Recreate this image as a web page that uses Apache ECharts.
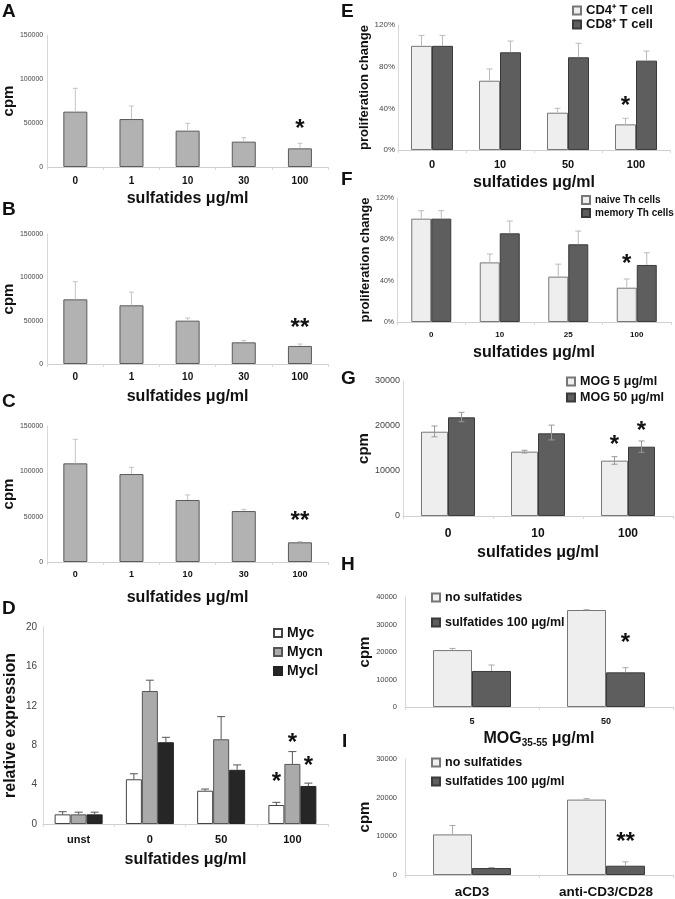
<!DOCTYPE html>
<html><head><meta charset="utf-8">
<script src="https://cdn.jsdelivr.net/npm/echarts@6/dist/echarts.min.js"></script>
<style>html,body{margin:0;padding:0;background:#fff}#c{width:675px;height:899px}</style>
</head><body><div id="c"></div>
<script>
// ---------- data ----------
const catsABC = ['0', '1', '10', '30', '100'];
const valsA = [62900, 54500, 41300, 28800, 21200];
const errA  = [89400, 69300, 49600, 33300, 26900];
const valsB = [74600, 67700, 50000, 25000, 20800];
const errB  = [95000, 83000, 53000, 27000, 23000];
const valsC = [108800, 97000, 68400, 56200, 21700];
const errC  = [135300, 104400, 73900, 58100, 22600];

const catsD = ['unst', '0', '50', '100'];
const mycD     = [0.98, 4.54, 3.38, 1.93];
const mycErrD  = [1.25, 5.1, 3.55, 2.2];
const mycnD    = [0.98, 13.5, 8.6, 6.1];
const mycnErrD = [1.2, 14.6, 10.9, 7.35];
const myclD    = [0.98, 8.3, 5.5, 3.86];
const myclErrD = [1.2, 8.8, 6.0, 4.15];

const catsE = ['0', '10', '50', '100'];
const cd4E    = [100, 66.5, 35.8, 24.6];
const cd4ErrE = [110, 77.8, 40, 30.4];
const cd8E    = [100, 93.8, 89, 85.8];
const cd8ErrE = [110, 104.6, 102.4, 95];

const catsF = ['0', '10', '25', '100'];
const naiveF    = [100, 57.7, 43.9, 33.2];
const naiveErrF = [107.7, 65.8, 56, 41.6];
const memF      = [100, 85.8, 75.2, 55.2];
const memErrF   = [107.7, 97.7, 88, 67];

const catsG = ['0', '10', '100'];
const mog5G      = [18730, 14300, 12300];
const mog5HiG    = [20000, 14600, 13180];
const mog5LoG    = [17600, 14000, 11500];
const mog50G     = [21930, 18370, 15400];
const mog50HiG   = [23040, 20200, 16670];
const mog50LoG   = [20960, 16900, 14150];

const catsH = ['5', '50'];
const noSulfH    = [20700, 35270];
const noSulfErrH = [21300, 35400];
const sulfH      = [13100, 12600];
const sulfErrH   = [15270, 14300];

const catsI = ['aCD3', 'anti-CD3/CD28'];
const noSulfI    = [10500, 19500];
const noSulfErrI = [12800, 19750];
const sulfI      = [1800, 2400];
const sulfErrI   = [1950, 3400];

// stars: [category index, y value, text, series index]
const starsA = [[4, 49500, '*', 0]];
const starsB = [[4, 47500, '**', 0]];
const starsC = [[4, 51000, '**', 0]];
const starsD = [[3, 4.8, '*', 0], [3, 8.8, '*', 1], [3, 6.5, '*', 2]];
const starsE = [[3, 48, '*', 0]];
const starsF = [[3, 62, '*', 0]];
const starsG = [[2, 17100, '*', 0], [2, 20200, '*', 1]];
const starsH = [[1, 25400, '*', 1]];
const starsI = [[1, 10000, '**', 1]];

// ---------- chart ----------
const FONT = 'Liberation Sans, Arial, Helvetica, sans-serif';
const chart = echarts.init(document.getElementById('c'));
const grids = [], xAxes = [], yAxes = [], series = [], legends = [], graphics = [];

function errRender(off, cap, color, both) {
  return function (params, api) {
    const x = api.value(0);
    const u = api.coord([x, api.value(2)]);
    const l = api.coord([x, api.value(3)]);
    const cx = u[0] + off;
    const ch = [
      { type: 'line', shape: { x1: cx, y1: l[1], x2: cx, y2: u[1] }, style: { stroke: color, lineWidth: 1 } },
      { type: 'line', shape: { x1: cx - cap, y1: u[1], x2: cx + cap, y2: u[1] }, style: { stroke: color, lineWidth: 1 } }
    ];
    if (both) ch.push({ type: 'line', shape: { x1: cx - cap, y1: l[1], x2: cx + cap, y2: l[1] }, style: { stroke: color, lineWidth: 1 } });
    return { type: 'group', children: ch };
  };
}

function addPanel(c) {
  const k = grids.length;
  grids.push({ left: c.grid[0], top: c.grid[1], width: c.grid[2], height: c.grid[3], containLabel: false });
  xAxes.push({
    type: 'category', gridIndex: k, data: c.cats,
    axisLine: { show: true, lineStyle: { color: '#cfcfcf', width: 1 } },
    axisTick: { show: true, length: 3, lineStyle: { color: '#d8d8d8' } },
    axisLabel: { interval: 0, fontSize: c.catFont, fontWeight: 'bold', color: '#111', fontFamily: FONT, margin: c.catMargin },
    name: c.xName, nameLocation: 'middle', nameGap: c.xNameGap,
    nameTextStyle: Object.assign({ fontSize: 16, fontWeight: 'bold', color: '#111', fontFamily: FONT }, c.xNameStyle || {})
  });
  yAxes.push({
    type: 'value', gridIndex: k, min: 0, max: c.yMax, interval: c.yInt,
    axisLine: { show: true, lineStyle: { color: '#d8d8d8', width: 1 } },
    axisTick: { show: false }, splitLine: { show: false },
    axisLabel: { fontSize: c.tickFont, color: '#444', fontFamily: FONT, margin: c.tickMargin,
      formatter: c.pct ? (v => v + '%') : (v => String(v)) },
    name: c.yName, nameLocation: 'middle', nameGap: c.yNameGap,
    nameTextStyle: { fontSize: c.yNameFont, fontWeight: 'bold', color: '#111', fontFamily: FONT }
  });
  const n = c.series.length;
  c.series.forEach((s, i) => {
    series.push({
      type: 'bar', name: s.name, xAxisIndex: k, yAxisIndex: k, data: s.data,
      barWidth: c.barWidth, barGap: '0%',
      itemStyle: { color: s.color, borderColor: s.border, borderWidth: 1 },
      emphasis: { disabled: true }, animation: false
    });
  });
  c.series.forEach((s, i) => {
    const off = (i - (n - 1) / 2) * c.barWidth;
    const low = s.low || s.data;
    series.push({
      type: 'custom', xAxisIndex: k, yAxisIndex: k, z: 5, animation: false,
      renderItem: errRender(off, c.cap, c.errColor, !!s.low),
      data: s.data.map((v, j) => [j, v, s.err[j], low[j]]),
      encode: { x: 0, y: [1, 2, 3] }, silent: true
    });
  });
  series.push({
    type: 'custom', xAxisIndex: k, yAxisIndex: k, z: 6, animation: false, silent: true,
    renderItem: function (params, api) {
      const p = api.coord([api.value(0), api.value(1)]);
      const si = api.value(3);
      const off = (si - (n - 1) / 2) * c.barWidth;
      return { type: 'text', x: p[0] + off, y: p[1] + 6,
        style: { text: c.stars[params.dataIndex][2], font: 'bold 24px ' + FONT, fill: '#111', align: 'center', verticalAlign: 'middle' } };
    },
    data: c.stars.map(s => [s[0], s[1], 0, s[3]]),
    encode: { x: 0, y: 1 }
  });
  if (c.legend) {
    legends.push(Object.assign({
      orient: 'vertical', icon: 'rect', itemWidth: 8, itemHeight: 8,
      data: c.series.map(s => s.name), selectedMode: false,
      textStyle: { fontSize: c.legend.font, fontWeight: 'bold', color: '#111', fontFamily: FONT },
      padding: 0
    }, c.legend.pos));
  }
}

const gA = '#b2b2b2', gBorder = '#5a5a5a';
const lightC = '#eeeeee', lightB = '#777777', darkC = '#5e5e5e', darkB = '#3a3a3a';

addPanel({ grid: [43, 35, 285, 132], cats: catsABC, yMax: 150000, yInt: 50000,
  tickFont: 7, tickMargin: 4, catFont: 10, catMargin: 9,
  xName: 'sulfatides μg/ml', xNameGap: 24, yName: 'cpm', yNameFont: 15, yNameGap: 27,
  barWidth: 24, cap: 2.5, errColor: '#c4c4c4',
  series: [{ name: 'A', data: valsA, err: errA, color: gA, border: gBorder }], stars: starsA });
addPanel({ grid: [43, 234, 285, 130], cats: catsABC, yMax: 150000, yInt: 50000,
  tickFont: 7, tickMargin: 4, catFont: 10, catMargin: 8,
  xName: 'sulfatides μg/ml', xNameGap: 25, yName: 'cpm', yNameFont: 15, yNameGap: 27,
  barWidth: 24, cap: 2.5, errColor: '#c4c4c4',
  series: [{ name: 'B', data: valsB, err: errB, color: gA, border: gBorder }], stars: starsB });
addPanel({ grid: [43, 426, 285, 136], cats: catsABC, yMax: 150000, yInt: 50000,
  tickFont: 7, tickMargin: 4, catFont: 9, catMargin: 8,
  xName: 'sulfatides μg/ml', xNameGap: 28, yName: 'cpm', yNameFont: 15, yNameGap: 27,
  barWidth: 24, cap: 2.5, errColor: '#c4c4c4',
  series: [{ name: 'C', data: valsC, err: errC, color: gA, border: gBorder }], stars: starsC });
addPanel({ grid: [43, 627, 285, 197], cats: catsD, yMax: 20, yInt: 4,
  tickFont: 10, tickMargin: 6, catFont: 11, catMargin: 10,
  xName: 'sulfatides μg/ml', xNameGap: 28, yName: 'relative expression', yNameFont: 16, yNameGap: 24,
  barWidth: 16, cap: 4, errColor: '#555555',
  series: [
    { name: 'Myc', data: mycD, err: mycErrD, color: '#ffffff', border: '#444' },
    { name: 'Mycn', data: mycnD, err: mycnErrD, color: '#aaaaaa', border: '#555' },
    { name: 'Mycl', data: myclD, err: myclErrD, color: '#262626', border: '#222' }],
  stars: starsD,
  legend: { font: 14, pos: { left: 273, top: 626, itemGap: 5 } } });
addPanel({ grid: [398, 25, 272, 125], cats: catsE, yMax: 120, yInt: 40, pct: true,
  tickFont: 8, tickMargin: 3, catFont: 11, catMargin: 9,
  xName: 'sulfatides μg/ml', xNameGap: 25, yName: 'proliferation change', yNameFont: 13, yNameGap: 24,
  barWidth: 21, cap: 3, errColor: '#bbbbbb',
  series: [
    { name: 'CD4⁺ T cell', data: cd4E, err: cd4ErrE, color: lightC, border: lightB },
    { name: 'CD8⁺ T cell', data: cd8E, err: cd8ErrE, color: darkC, border: darkB }],
  stars: starsE,
  legend: { font: 13, pos: { left: 572, top: 4, itemGap: 1 } } });
addPanel({ grid: [397, 198, 274, 124], cats: catsF, yMax: 120, yInt: 40, pct: true,
  tickFont: 7, tickMargin: 3, catFont: 8, catMargin: 9,
  xName: 'sulfatides μg/ml', xNameGap: 23, yName: 'proliferation change', yNameFont: 13, yNameGap: 22,
  barWidth: 20, cap: 3, errColor: '#bbbbbb',
  series: [
    { name: 'naive Th cells', data: naiveF, err: naiveErrF, color: lightC, border: lightB },
    { name: 'memory Th cells', data: memF, err: memErrF, color: darkC, border: darkB }],
  stars: starsF,
  legend: { font: 10, pos: { left: 581, top: 195, itemGap: 3 } } });
addPanel({ grid: [403, 381, 270, 135], cats: catsG, yMax: 30000, yInt: 10000,
  tickFont: 9, tickMargin: 3, catFont: 12, catMargin: 12,
  xName: 'sulfatides μg/ml', xNameGap: 29, yName: 'cpm', yNameFont: 15, yNameGap: 30,
  barWidth: 27, cap: 3, errColor: '#999999',
  series: [
    { name: 'MOG 5 μg/ml', data: mog5G, err: mog5HiG, low: mog5LoG, color: lightC, border: lightB },
    { name: 'MOG 50 μg/ml', data: mog50G, err: mog50HiG, low: mog50LoG, color: darkC, border: darkB }],
  stars: starsG,
  legend: { font: 12.5, pos: { left: 566, top: 375, itemGap: 3 } } });
addPanel({ grid: [405, 597, 268, 110], cats: catsH, yMax: 40000, yInt: 10000,
  tickFont: 7.5, tickMargin: 8, catFont: 9, catMargin: 10,
  xName: '{a|MOG}{s|35-55}{a| μg/ml}', xNameGap: 22,
  xNameStyle: { rich: { a: { fontSize: 16, fontWeight: 'bold', color: '#111', fontFamily: FONT },
                        s: { fontSize: 10, fontWeight: 'bold', color: '#111', fontFamily: FONT, padding: [9, 0, 0, 0] } } },
  yName: 'cpm', yNameFont: 15, yNameGap: 32,
  barWidth: 39, cap: 3, errColor: '#aaaaaa',
  series: [
    { name: 'no sulfatides', data: noSulfH, err: noSulfErrH, color: lightC, border: lightB },
    { name: 'sulfatides 100 μg/ml', data: sulfH, err: sulfErrH, color: darkC, border: darkB }],
  stars: starsH,
  legend: { font: 12.5, pos: { left: 431, top: 591, itemGap: 12 } } });
addPanel({ grid: [405, 759, 268, 117], cats: catsI, yMax: 30000, yInt: 10000,
  tickFont: 7.5, tickMargin: 8, catFont: 13.5, catMargin: 10,
  xName: '', xNameGap: 20, yName: 'cpm', yNameFont: 15, yNameGap: 32,
  barWidth: 39, cap: 3, errColor: '#aaaaaa',
  series: [
    { name: 'no sulfatides', data: noSulfI, err: noSulfErrI, color: lightC, border: lightB },
    { name: 'sulfatides 100 μg/ml', data: sulfI, err: sulfErrI, color: darkC, border: darkB }],
  stars: starsI,
  legend: { font: 12.5, pos: { left: 431, top: 756, itemGap: 6 } } });

const panelLabels = [['A', 2, 2], ['B', 2, 200], ['C', 2, 392], ['D', 2, 599], ['E', 341, 2],
  ['F', 341, 170], ['G', 341, 369], ['H', 341, 555], ['I', 342, 732]];
panelLabels.forEach(p => graphics.push({ type: 'text', left: p[1], top: p[2],
  style: { text: p[0], font: 'bold 19px ' + FONT, fill: '#111' } }));

chart.setOption({
  animation: false, backgroundColor: '#ffffff',
  grid: grids, xAxis: xAxes, yAxis: yAxes, series: series, legend: legends, graphic: graphics
});
</script></body></html>
